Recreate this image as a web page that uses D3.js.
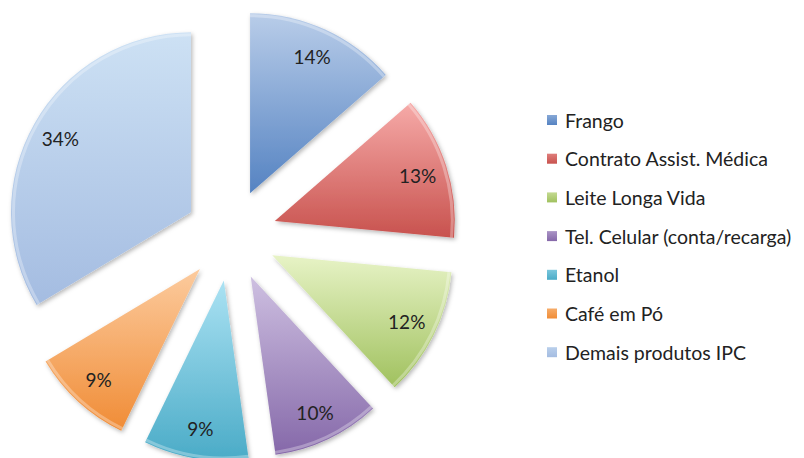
<!DOCTYPE html>
<html><head><meta charset="utf-8">
<script src="https://cdn.jsdelivr.net/npm/d3@7"></script>
<style>body{margin:0;background:#fff}svg{display:block}</style>
</head><body>
<svg id="c" width="804" height="458"></svg>
<script>
const categories = ["Frango","Contrato Assist. Médica","Leite Longa Vida","Tel. Celular (conta/recarga)","Etanol","Café em Pó","Demais produtos IPC"];
const values = [13.6, 12.9, 11.6, 9.7, 9.4, 9.2, 33.6];
const topColors = ["#b9cde9","#f6aaa8","#e7f3c6","#cec0e1","#abe2f3","#fccb9e","#cde1f4"];
const bottomColors = ["#5583c2","#c8524e","#a0c15e","#8568a9","#4aabc7","#f08c36","#a4bce1"];

const svg = d3.select("#c");
const defs = svg.append("defs");
const cx = 231, cy = 235, R = 180, explode = 46, labelDist = 150;

const f = defs.append("filter").attr("id","sh").attr("x","-20%").attr("y","-20%").attr("width","140%").attr("height","140%");
f.append("feDropShadow").attr("dx",1.5).attr("dy",2).attr("stdDeviation",2).attr("flood-color","#000").attr("flood-opacity",0.28);

const pie = d3.pie().sort(null).value(d => d)(values);
const arc = d3.arc().innerRadius(0).outerRadius(R);
const total = d3.sum(values);
const fmt = d3.format(".0%");

const g = svg.append("g");
pie.forEach((p, i) => {
  const mid = (p.startAngle + p.endAngle) / 2;
  const ox = cx + explode * Math.sin(mid), oy = cy - explode * Math.cos(mid);
  const ys = [0];
  for (let k = 0; k <= 40; k++) {
    const a = p.startAngle + (p.endAngle - p.startAngle) * k / 40;
    ys.push(-R * Math.cos(a));
  }
  const gid = "gr" + i;
  const gr = defs.append("linearGradient").attr("id", gid).attr("gradientUnits","userSpaceOnUse")
    .attr("x1",0).attr("x2",0).attr("y1", d3.min(ys)).attr("y2", d3.max(ys));
  gr.append("stop").attr("offset","0%").attr("stop-color", topColors[i]);
  gr.append("stop").attr("offset","100%").attr("stop-color", bottomColors[i]);
  const sg = g.append("g").attr("transform", `translate(${ox},${oy})`);
  sg.append("path").attr("d", arc(p)).attr("fill", `url(#${gid})`).attr("filter","url(#sh)");
  sg.append("path").attr("d", d3.arc().innerRadius(R-4).outerRadius(R-1)(p))
    .attr("fill","#fff").attr("opacity",0.3);
  sg.append("text").attr("x", labelDist * Math.sin(mid)).attr("y", -labelDist * Math.cos(mid))
    .attr("text-anchor","middle").attr("dominant-baseline","central")
    .attr("font-family","Lato, 'Open Sans', sans-serif").attr("font-size",19).attr("fill","#222")
    .text(fmt(values[i] / total));
});

const lg = svg.append("g").attr("transform","translate(547,120)");
categories.forEach((c, i) => {
  const row = lg.append("g").attr("transform", `translate(0,${i * 38.7})`);
  const lid = "lg" + i;
  const gr = defs.append("linearGradient").attr("id", lid).attr("x1",0).attr("x2",0).attr("y1",0).attr("y2",1);
  gr.append("stop").attr("offset","0%").attr("stop-color", d3.interpolateRgb(topColors[i], bottomColors[i])(0.5));
  gr.append("stop").attr("offset","100%").attr("stop-color", bottomColors[i]);
  row.append("rect").attr("x",0).attr("y",-5).attr("width",10).attr("height",10).attr("fill",`url(#${lid})`);
  row.append("text").attr("x",18).attr("y",0).attr("dominant-baseline","central")
    .attr("font-family","Lato, 'Open Sans', sans-serif").attr("font-size",19.5).attr("fill","#222").text(c);
});
</script>
</body></html>
